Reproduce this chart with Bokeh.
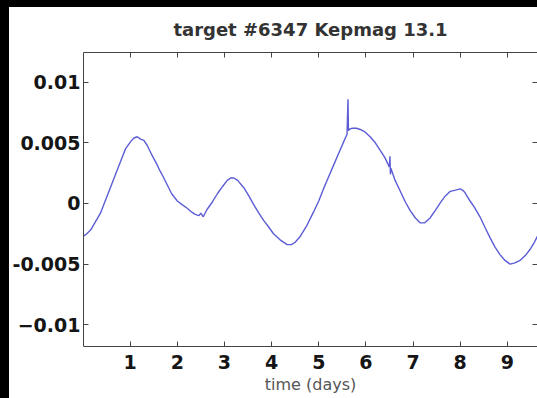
from bokeh.plotting import figure
from bokeh.models import LinearAxis, FixedTicker, Range1d, Spacer
from bokeh.layouts import row, column
from bokeh.embed import file_html
from bokeh.resources import INLINE

# Light curve of target #6347 (relative flux vs. time in days)
time_days = [0.01, 0.08, 0.16, 0.25, 0.37, 0.47, 0.58, 0.69, 0.80, 0.90,
             1.01, 1.08, 1.15, 1.22, 1.29, 1.36, 1.46, 1.57, 1.63, 1.70,
             1.79, 1.88, 2.00, 2.10, 2.21, 2.30, 2.38, 2.46, 2.50, 2.55,
             2.63, 2.74, 2.85, 2.96, 3.06, 3.13, 3.20, 3.28, 3.41, 3.52,
             3.62, 3.73, 3.83, 3.93, 4.04, 4.18, 4.33, 4.42, 4.50, 4.61,
             4.75, 4.89, 5.00, 5.10, 5.21, 5.32, 5.43, 5.53, 5.60, 5.62,
             5.63, 5.64, 5.70, 5.80, 5.88, 5.98, 6.09, 6.20, 6.30, 6.40,
             6.50, 6.51, 6.52, 6.53, 6.62, 6.73, 6.84, 6.94, 7.05, 7.15,
             7.25, 7.36, 7.47, 7.57, 7.68, 7.79, 7.90, 8.00, 8.05, 8.10,
             8.21, 8.30, 8.42, 8.53, 8.63, 8.74, 8.84, 8.95, 9.06, 9.16,
             9.27, 9.38, 9.48, 9.56, 9.64]
flux = [-0.0027, -0.0025, -0.0022, -0.0016, -0.0008, 0.0002, 0.0013, 0.0024, 0.0035, 0.0045,
        0.0051, 0.0054, 0.0055, 0.0053, 0.0052, 0.0048, 0.0040, 0.0032, 0.0027, 0.0022,
        0.0015, 0.0008, 0.0002, -0.0001, -0.0004, -0.0007, -0.0009, -0.0010, -0.0008, -0.0011,
        -0.0005, 0.0001, 0.0008, 0.0014, 0.0019, 0.0021, 0.0021, 0.0019, 0.0013, 0.0006,
        -0.0001, -0.0008, -0.0014, -0.0019, -0.0025, -0.0030, -0.0034, -0.0034, -0.0032, -0.0027,
        -0.0018, -0.0007, 0.0002, 0.0012, 0.0022, 0.0032, 0.0042, 0.0051, 0.0057, 0.0086,
        0.0060, 0.0061, 0.0062, 0.0062, 0.0061, 0.0059, 0.0055, 0.0050, 0.0044, 0.0038,
        0.0030, 0.0039, 0.0024, 0.0029, 0.0019, 0.0010, 0.0001, -0.0006, -0.0012, -0.0016,
        -0.0016, -0.0012, -0.0006, 0.0000, 0.0006, 0.0010, 0.0011, 0.0012, 0.0011, 0.0009,
        0.0002, -0.0003, -0.0011, -0.0020, -0.0028, -0.0036, -0.0042, -0.0047, -0.0050, -0.0049,
        -0.0047, -0.0043, -0.0038, -0.0033, -0.0027]

x_ticks = [1, 2, 3, 4, 5, 6, 7, 8, 9]
y_ticks = [-0.01, -0.005, 0, 0.005, 0.01]
y_tick_labels = ["\u22120.01", "-0.005", "0", "0.005", "0.01"]

FONT = "DejaVu Sans"

p = figure(width=528, height=391, output_backend="svg", toolbar_location=None,
           x_range=Range1d(0.01, 9.64), y_range=Range1d(-0.0118, 0.01245),
           x_axis_location=None, y_axis_location=None,
           min_border_left=73, min_border_right=0, min_border_top=45, min_border_bottom=52,
           title="target #6347 Kepmag 13.1")
p.background_fill_color = "white"
p.border_fill_color = "white"
p.outline_line_color = None
for g in p.grid:
    g.visible = False

p.title.align = "center"
p.title.vertical_align = "top"
p.title.text_font = FONT
p.title.text_font_size = "18px"
p.title.text_font_style = "bold"
p.title.text_color = "#333333"
p.title.standoff = 22

def style_axis(ax, labels=True):
    ax.major_tick_in = 5
    ax.major_tick_out = 0
    ax.minor_tick_line_color = None
    ax.axis_line_color = "#444444"
    ax.major_tick_line_color = "#444444"
    if labels:
        ax.major_label_text_font = FONT
        ax.major_label_text_font_size = "19px"
        ax.major_label_text_font_style = "bold"
        ax.major_label_text_color = "#151515"
    else:
        ax.major_label_text_font_size = "1px"
        ax.major_label_text_color = None
        ax.major_label_standoff = 0

bottom = LinearAxis(ticker=FixedTicker(ticks=x_ticks), axis_label="time (days)")
style_axis(bottom)
bottom.major_label_standoff = 8
bottom.axis_label_text_font = FONT
bottom.axis_label_text_font_size = "16px"
bottom.axis_label_text_font_style = "normal"
bottom.axis_label_text_color = "#555555"
bottom.axis_label_standoff = 3
p.add_layout(bottom, "below")

top = LinearAxis(ticker=FixedTicker(ticks=x_ticks))
style_axis(top, labels=False)
p.add_layout(top, "above")

left = LinearAxis(ticker=FixedTicker(ticks=y_ticks),
                  major_label_overrides=dict(zip(y_ticks, y_tick_labels)))
style_axis(left)
left.major_label_standoff = 3
p.add_layout(left, "left")

right = LinearAxis(ticker=FixedTicker(ticks=y_ticks))
style_axis(right, labels=False)
right.axis_line_color = None
p.add_layout(right, "right")

p.line(time_days, flux, line_color="#4a4ad2", line_width=1.4, line_alpha=0.9)

# dark strips along the left and top edges of the page
left_strip = Spacer(width=9, height=398, styles={"background-color": "black"})
top_strip = Spacer(width=528, height=7, styles={"background-color": "black"})
page = row(left_strip, column(top_strip, p, spacing=0), spacing=0)

open("out.html", "w").write(file_html(page, INLINE))
